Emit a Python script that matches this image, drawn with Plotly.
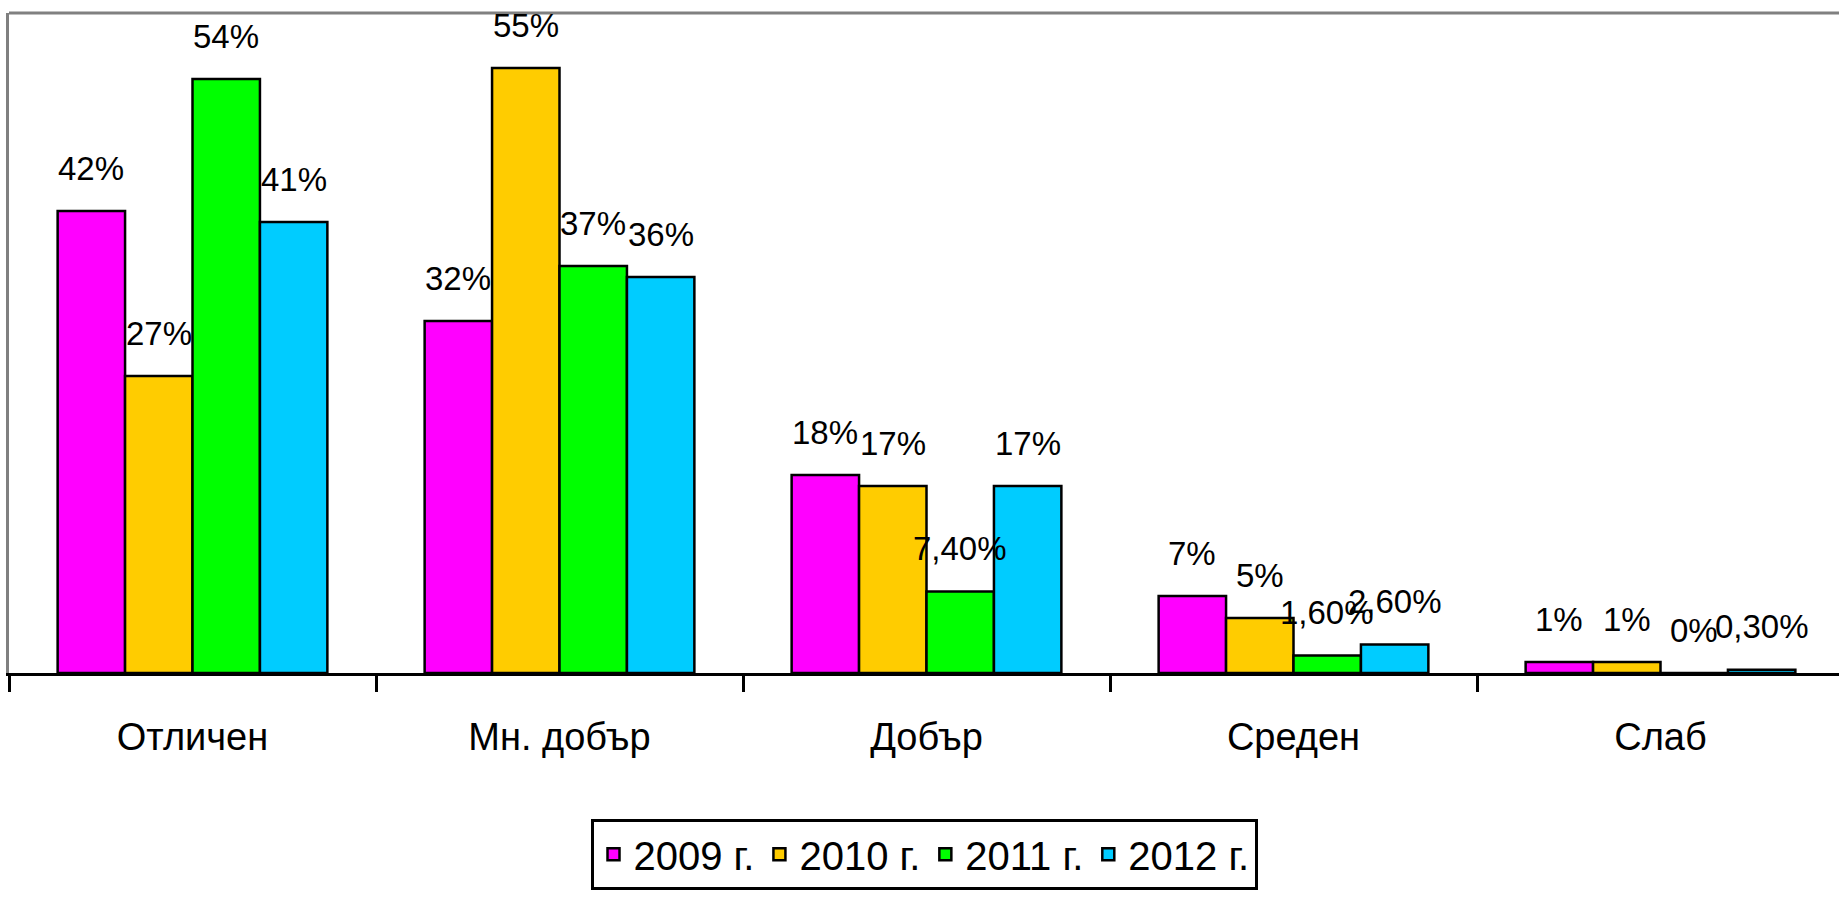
import plotly.graph_objects as go

categories = ["Отличен", "Мн. добър", "Добър", "Среден", "Слаб"]
series_names = ["2009 г.", "2010 г.", "2011 г.", "2012 г."]
values_2009 = [42, 32, 18, 7, 1]
values_2010 = [27, 55, 17, 5, 1]
values_2011 = [54, 37, 7.4, 1.6, 0]
values_2012 = [41, 36, 17, 2.6, 0.3]
labels_2009 = ["42%", "32%", "18%", "7%", "1%"]
labels_2010 = ["27%", "55%", "17%", "5%", "1%"]
labels_2011 = ["54%", "37%", "7,40%", "1,60%", "0%"]
labels_2012 = ["41%", "36%", "17%", "2,60%", "0,30%"]
colors = ["#FF00FF", "#FFCC00", "#00FF00", "#00CCFF"]

all_values = [values_2009, values_2010, values_2011, values_2012]
all_labels = [labels_2009, labels_2010, labels_2011, labels_2012]

FONT = "Liberation Sans Narrow, Arial Narrow, Liberation Sans, Arial, sans-serif"

W, H = 1839, 900
ML, MR, MT, MB = 9, 0, 13, 227
cat_px = 367.0
plot_w = W - ML - MR
bargap = 0.265
bar_px = cat_px * (1 - bargap) / 4

fig = go.Figure()
for name, vals, col in zip(series_names, all_values, colors):
    fig.add_trace(go.Bar(
        x=categories, y=vals, name=name,
        marker=dict(color=col, line=dict(color="black", width=2.5)),
    ))

annotations = []
for i, (vals, labs) in enumerate(zip(all_values, all_labels)):
    for c, v, t in zip(categories, vals, labs):
        annotations.append(dict(
            x=c, y=v, xref="x", yref="y", text=t, showarrow=False,
            xshift=(i - 1.5) * bar_px, yshift=43, yanchor="middle",
            font=dict(family=FONT, size=33, color="black"),
        ))

fig.update_layout(
    width=W, height=H,
    margin=dict(l=ML, r=MR, t=MT, b=MB),
    paper_bgcolor="white", plot_bgcolor="white",
    barmode="group", bargap=bargap, bargroupgap=0,
    font=dict(family=FONT, color="black"),
    showlegend=True,
    legend=dict(
        orientation="h", x=0.5, xanchor="center", y=-0.221, yanchor="top",
        font=dict(family=FONT, size=40, color="black"),
        bordercolor="black", borderwidth=3, bgcolor="white",
        traceorder="normal",
    ),
    annotations=annotations,
    shapes=[dict(type="line", xref="paper", yref="paper", x0=0, x1=1, y0=1, y1=1,
                 line=dict(color="#808080", width=3))],
)
fig.update_xaxes(
    range=[-0.5, -0.5 + plot_w / cat_px],
    showline=True, linecolor="black", linewidth=3,
    ticks="outside", tickson="boundaries", ticklen=16, tickwidth=3, tickcolor="black",
    tickfont=dict(family=FONT, size=38, color="black"),
    ticklabelstandoff=28,
    showgrid=False, zeroline=False,
)
fig.update_yaxes(
    range=[0, 60], showticklabels=False, showgrid=False, zeroline=False,
    showline=True, linecolor="#808080", linewidth=3, ticks="",
)

fig.write_html("out.html", config={"displayModeBar": False},
               post_script="document.body.style.margin='0px';")
